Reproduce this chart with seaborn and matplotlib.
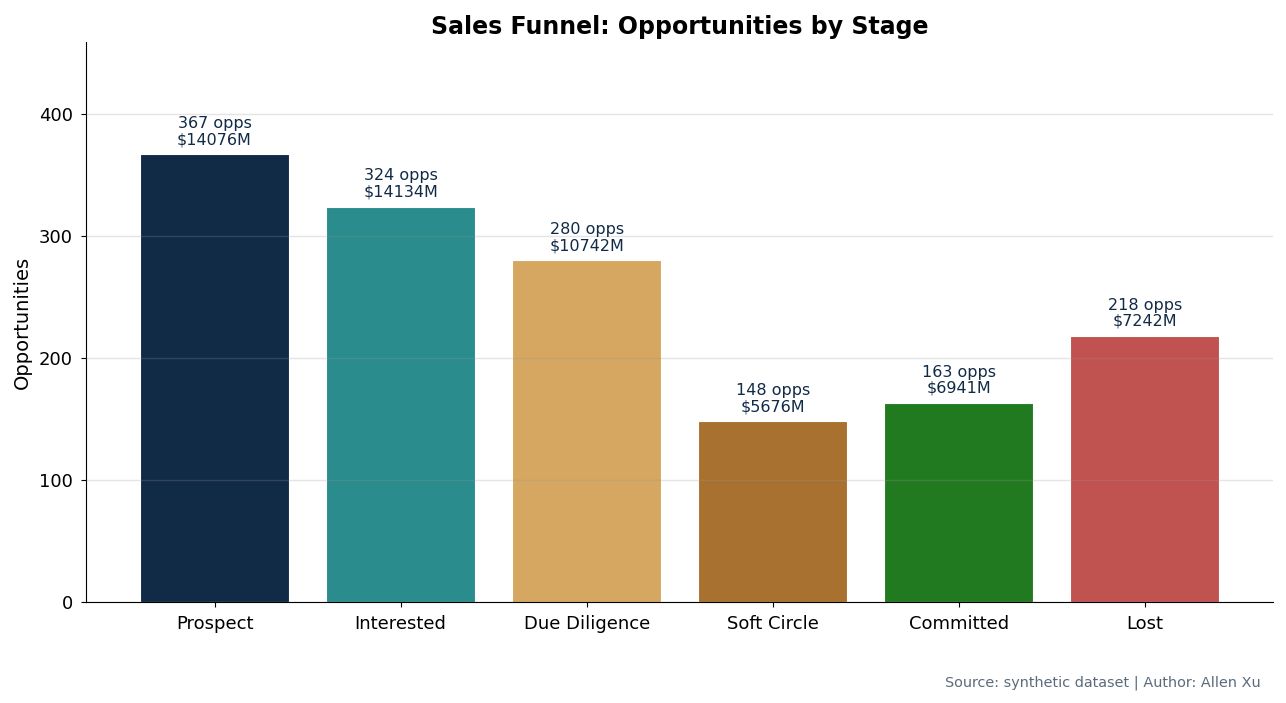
import pandas as pd
import matplotlib
matplotlib.use("Agg")
import matplotlib.pyplot as plt
import seaborn as sns

stages = ["Prospect", "Interested", "Due Diligence", "Soft Circle", "Committed", "Lost"]
opportunities = [367, 324, 280, 148, 163, 218]
pipeline_value_m = [14076, 14134, 10742, 5676, 6941, 7242]
colors = ["#112A46", "#2A8C8C", "#D6A760", "#A8712F", "#217A1F", "#C0524F"]


def main():
    df = pd.DataFrame({"stage": stages, "opps": opportunities, "value": pipeline_value_m})

    plt.rcParams["font.family"] = ["DejaVu Sans"]
    fig, ax = plt.subplots(figsize=(12.86, 7.03), dpi=100)

    sns.barplot(data=df, x="stage", y="opps", hue="stage", palette=colors,
                saturation=1, legend=False, width=0.8, edgecolor="white",
                linewidth=0.8, ax=ax)

    for i, row in df.iterrows():
        ax.annotate(f"{row['opps']} opps\n${row['value']}M",
                    xy=(i, row["opps"]), xytext=(0, 5), textcoords="offset points",
                    ha="center", va="bottom", fontsize=11.5, color="#112A46",
                    linespacing=1.1)

    ax.set_xlim(-0.69, 5.69)
    ax.set_ylim(0, max(opportunities) * 1.25)
    ax.set_yticks([0, 100, 200, 300, 400])
    ax.set_axisbelow(False)
    ax.yaxis.grid(True, color="#999999", alpha=0.25, linewidth=1)
    ax.xaxis.grid(False)
    ax.tick_params(axis="both", labelsize=13, pad=6)
    sns.despine(ax=ax)

    ax.set_title("Sales Funnel: Opportunities by Stage", fontsize=17, fontweight="bold")
    ax.set_xlabel("")
    ax.set_ylabel("Opportunities", fontsize=14, labelpad=5)

    fig.subplots_adjust(left=0.067, right=0.99, top=0.94, bottom=0.144)
    fig.text(0.98, 0.018, "Source: synthetic dataset | Author: Allen Xu",
             ha="right", va="bottom", fontsize=10.4, color="#5A6B7B")

    fig.savefig("out.png", dpi=100)


if __name__ == "__main__":
    main()
